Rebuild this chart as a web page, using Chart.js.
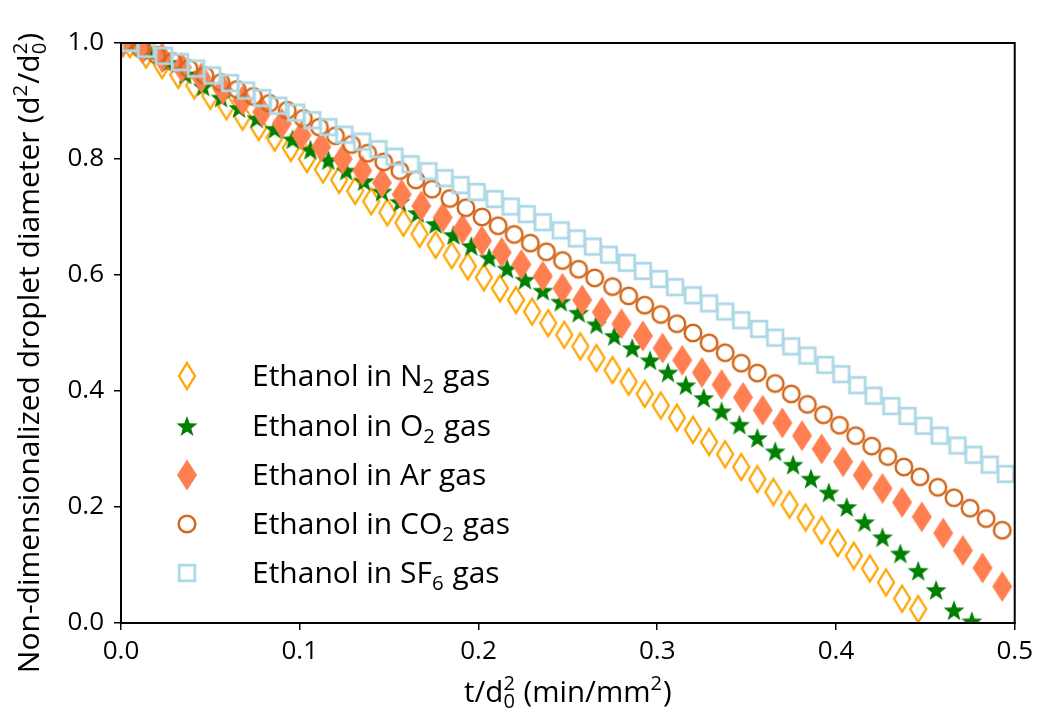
<!DOCTYPE html>
<html>
<head>
<meta charset="utf-8">
<script src="https://cdn.jsdelivr.net/npm/chart.js@4.4.0/dist/chart.umd.min.js"></script>
<style>
  html, body { margin: 0; padding: 0; background: #fff; }
</style>
</head>
<body>
<canvas id="myChart" width="1039" height="719"></canvas>
<script>
// values
const n2X = [0.005,0.014,0.023,0.032,0.041,0.050,0.059,0.068,0.077,0.086,0.095,0.104,0.113,0.122,0.131,0.140,0.149,0.158,0.167,0.176,0.185,0.194,0.203,0.212,0.221,0.230,0.239,0.248,0.257,0.266,0.275,0.284,0.293,0.302,0.311,0.320,0.329,0.338,0.347,0.356,0.365,0.374,0.383,0.392,0.401,0.410,0.419,0.428,0.437,0.446];
const n2Y = [0.998,0.980,0.962,0.945,0.927,0.909,0.891,0.873,0.855,0.837,0.819,0.800,0.782,0.764,0.745,0.727,0.708,0.690,0.671,0.652,0.634,0.615,0.596,0.577,0.557,0.537,0.517,0.497,0.477,0.457,0.436,0.416,0.395,0.375,0.354,0.333,0.312,0.291,0.269,0.248,0.226,0.204,0.182,0.160,0.138,0.116,0.094,0.070,0.042,0.024];

const o2X = [0.006,0.016,0.026,0.036,0.046,0.056,0.066,0.076,0.086,0.096,0.106,0.116,0.126,0.136,0.146,0.156,0.166,0.176,0.186,0.196,0.206,0.216,0.226,0.236,0.246,0.256,0.266,0.276,0.286,0.296,0.306,0.316,0.326,0.336,0.346,0.356,0.366,0.376,0.386,0.396,0.406,0.416,0.426,0.436,0.446,0.456,0.466,0.476];
const o2Y = [1.000,0.985,0.966,0.946,0.925,0.906,0.888,0.870,0.852,0.834,0.816,0.798,0.780,0.762,0.744,0.726,0.707,0.688,0.669,0.650,0.630,0.611,0.592,0.573,0.554,0.535,0.515,0.495,0.474,0.453,0.432,0.410,0.388,0.365,0.342,0.319,0.296,0.273,0.249,0.225,0.200,0.174,0.148,0.120,0.090,0.057,0.022,0.003];

const arX = [0.001,0.012,0.023,0.034,0.045,0.057,0.068,0.079,0.090,0.101,0.112,0.124,0.135,0.146,0.157,0.168,0.180,0.191,0.202,0.213,0.224,0.236,0.247,0.258,0.269,0.280,0.292,0.303,0.314,0.325,0.336,0.348,0.359,0.370,0.381,0.392,0.404,0.415,0.426,0.437,0.448,0.460,0.471,0.482,0.493];
const arY = [1.000,0.990,0.975,0.958,0.940,0.920,0.901,0.881,0.861,0.841,0.821,0.800,0.780,0.759,0.739,0.719,0.699,0.679,0.659,0.639,0.618,0.598,0.577,0.557,0.536,0.516,0.495,0.474,0.453,0.432,0.411,0.389,0.367,0.345,0.323,0.300,0.278,0.255,0.232,0.208,0.183,0.155,0.125,0.095,0.063];

const co2X = [0.002,0.011,0.020,0.029,0.038,0.047,0.056,0.065,0.074,0.083,0.093,0.102,0.111,0.120,0.129,0.138,0.147,0.156,0.165,0.174,0.184,0.193,0.202,0.211,0.220,0.229,0.238,0.247,0.256,0.265,0.275,0.284,0.293,0.302,0.311,0.320,0.329,0.338,0.347,0.356,0.366,0.375,0.384,0.393,0.402,0.411,0.420,0.429,0.438,0.447,0.457,0.466,0.475,0.484,0.493];
const co2Y = [1.000,0.990,0.979,0.968,0.956,0.944,0.932,0.920,0.908,0.896,0.884,0.870,0.855,0.840,0.825,0.810,0.795,0.780,0.764,0.748,0.732,0.716,0.700,0.685,0.670,0.655,0.640,0.625,0.610,0.595,0.580,0.564,0.548,0.532,0.516,0.500,0.483,0.466,0.448,0.431,0.413,0.395,0.377,0.359,0.341,0.323,0.305,0.287,0.269,0.252,0.234,0.216,0.198,0.180,0.160];

const sf6X = [0.005,0.014,0.024,0.033,0.042,0.051,0.061,0.070,0.079,0.088,0.098,0.107,0.116,0.125,0.135,0.144,0.153,0.162,0.172,0.181,0.190,0.199,0.209,0.218,0.227,0.236,0.246,0.255,0.264,0.273,0.283,0.292,0.301,0.310,0.320,0.329,0.338,0.347,0.357,0.366,0.375,0.384,0.394,0.403,0.412,0.421,0.431,0.440,0.449,0.458,0.468,0.477,0.486,0.495];
const sf6Y = [1.000,0.990,0.978,0.967,0.956,0.944,0.931,0.918,0.905,0.892,0.880,0.867,0.855,0.842,0.830,0.817,0.804,0.791,0.779,0.767,0.755,0.743,0.731,0.718,0.705,0.691,0.677,0.663,0.649,0.635,0.621,0.607,0.593,0.579,0.565,0.551,0.537,0.522,0.507,0.492,0.477,0.461,0.445,0.429,0.410,0.392,0.374,0.357,0.340,0.323,0.306,0.290,0.273,0.257];

const xTicks = ['0.0', '0.1', '0.2', '0.3', '0.4', '0.5'];
const yTicks = ['0.0', '0.2', '0.4', '0.6', '0.8', '1.0'];

// legend texts, split for the subscript
const legendNames = [
    [{ n: 'Ethanol in N' }, { sub: '2' }, { n: ' gas' }],
    [{ n: 'Ethanol in O' }, { sub: '2' }, { n: ' gas' }],
    [{ n: 'Ethanol in Ar gas' }],
    [{ n: 'Ethanol in CO' }, { sub: '2' }, { n: ' gas' }],
    [{ n: 'Ethanol in SF' }, { sub: '6' }, { n: ' gas' }]
];
const yTitle = [{ n: 'Non-dimensionalized droplet diameter (d' }, { sup: '2' }, { n: '/d' }, { sub: '0', sup: '2' }, { n: ')' }];
const xTitle = [{ n: 't/d' }, { sub: '0', sup: '2' }, { n: ' (min/mm' }, { sup: '2' }, { n: ')' }];

const FONT = '"Open Sans", "Noto Sans", sans-serif';

function makeMarker(w, h, draw) {
    const c = document.createElement('canvas');
    c.width = w;
    c.height = h;
    draw(c.getContext('2d'), w / 2, h / 2);
    return c;
}

const thinDiamond = makeMarker(22, 32, (g, cx, cy) => {
    g.beginPath();
    g.moveTo(cx, cy - 13); g.lineTo(cx + 8, cy); g.lineTo(cx, cy + 13); g.lineTo(cx - 8, cy);
    g.closePath();
    g.strokeStyle = '#FFA500';
    g.lineWidth = 2.3;
    g.stroke();
});

const fatDiamond = makeMarker(24, 34, (g, cx, cy) => {
    g.beginPath();
    g.moveTo(cx, cy - 15.5); g.lineTo(cx + 10, cy); g.lineTo(cx, cy + 15.5); g.lineTo(cx - 10, cy);
    g.closePath();
    g.fillStyle = '#FF7F50';
    g.fill();
});

const star = makeMarker(26, 26, (g, cx, cy) => {
    g.beginPath();
    for (let i = 0; i < 10; i++) {
        const r = i % 2 === 0 ? 11 : 4.5;
        const a = -Math.PI / 2 + i * Math.PI / 5;
        const px = cx + r * Math.cos(a), py = cy + 1 + r * Math.sin(a);
        if (i === 0) g.moveTo(px, py); else g.lineTo(px, py);
    }
    g.closePath();
    g.fillStyle = '#008000';
    g.fill();
});

const ring = makeMarker(24, 24, (g, cx, cy) => {
    g.beginPath();
    g.arc(cx, cy, 8.3, 0, Math.PI * 2);
    g.strokeStyle = '#D2691E';
    g.lineWidth = 2.5;
    g.stroke();
});

const square = makeMarker(24, 24, (g, cx, cy) => {
    g.strokeStyle = '#ADD8E6';
    g.lineWidth = 2.8;
    g.strokeRect(cx - 7.8, cy - 7.8, 15.6, 15.6);
});

const markers = [thinDiamond, star, fatDiamond, ring, square];

function pts(xs, ys) {
    const out = [];
    for (let i = 0; i < Math.min(xs.length, ys.length); i++) out.push({ x: xs[i], y: ys[i] });
    return out;
}

function richWidth(ctx, segs, size) {
    let w = 0;
    segs.forEach(s => {
        if (s.n !== undefined) {
            ctx.font = size + 'px ' + FONT;
            w += ctx.measureText(s.n).width;
        } else {
            ctx.font = (size * 0.68) + 'px ' + FONT;
            const a = s.sup ? ctx.measureText(s.sup).width : 0;
            const b = s.sub ? ctx.measureText(s.sub).width : 0;
            w += Math.max(a, b) + 1;
        }
    });
    return w;
}

function drawRich(ctx, segs, x, y, size) {
    let cx = x;
    ctx.textBaseline = 'alphabetic';
    ctx.textAlign = 'left';
    segs.forEach(s => {
        if (s.n !== undefined) {
            ctx.font = size + 'px ' + FONT;
            ctx.fillText(s.n, cx, y);
            cx += ctx.measureText(s.n).width;
        } else {
            ctx.font = (size * 0.68) + 'px ' + FONT;
            let w = 0;
            if (s.sup) {
                ctx.fillText(s.sup, cx, y - size * 0.40);
                w = Math.max(w, ctx.measureText(s.sup).width);
            }
            if (s.sub) {
                ctx.fillText(s.sub, cx, y + size * 0.22);
                w = Math.max(w, ctx.measureText(s.sub).width);
            }
            cx += w + 1;
        }
    });
}

const decorations = {
    id: 'decorations',
    beforeDraw(chart) {
        const ctx = chart.ctx;
        ctx.save();
        ctx.fillStyle = '#fff';
        ctx.fillRect(0, 0, chart.width, chart.height);
        ctx.restore();
    },
    afterDraw(chart) {
        const ctx = chart.ctx;
        const a = chart.chartArea;
        ctx.save();
        // frame
        ctx.strokeStyle = '#000';
        ctx.lineWidth = 2;
        ctx.strokeRect(a.left, a.top, a.right - a.left, a.bottom - a.top);

        ctx.fillStyle = '#000';
        // x title
        const xs = 29.5;
        const xw = richWidth(ctx, xTitle, xs);
        drawRich(ctx, xTitle, (a.left + a.right) / 2 - xw / 2, 702, xs);

        // y title, rotated
        const ys = 30;
        const yw = richWidth(ctx, yTitle, ys);
        ctx.save();
        ctx.translate(39, 353);
        ctx.rotate(-Math.PI / 2);
        drawRich(ctx, yTitle, -yw / 2, 0, ys);
        ctx.restore();

        // legend
        const rows = [376, 426, 475, 524, 573];
        legendNames.forEach((name, i) => {
            const m = markers[i];
            ctx.drawImage(m, 187 - m.width / 2, rows[i] - m.height / 2);
            drawRich(ctx, name, 252, rows[i] + 10, 30);
        });
        ctx.restore();
    }
};

const ctx = document.getElementById('myChart').getContext('2d');
const seriesX = [n2X, o2X, arX, co2X, sf6X];
const seriesY = [n2Y, o2Y, arY, co2Y, sf6Y];
const labels = ['Ethanol in N2 gas', 'Ethanol in O2 gas', 'Ethanol in Ar gas', 'Ethanol in CO2 gas', 'Ethanol in SF6 gas'];

const datasets = labels.map((label, i) => ({
    label: label,
    data: pts(seriesX[i], seriesY[i]),
    pointStyle: markers[i],
    pointRadius: 8,
    pointHoverRadius: 8,
    showLine: false,
    order: 5 - i
}));

new Chart(ctx, {
    type: 'scatter',
    data: { datasets: datasets },
    plugins: [decorations],
    options: {
        responsive: false,
        animation: false,
        events: [],
        layout: { padding: { left: 0, top: 43, right: 24, bottom: 0 } },
        plugins: {
            legend: { display: false },
            tooltip: { enabled: false }
        },
        scales: {
            x: {
                type: 'linear',
                min: 0,
                max: 0.5,
                afterBuildTicks: s => { s.ticks = xTicks.map(t => ({ value: parseFloat(t) })); },
                ticks: {
                    callback: (v, i) => xTicks[i],
                    color: '#000',
                    font: { family: FONT, size: 26 },
                    padding: 6,
                    maxRotation: 0
                },
                grid: { drawOnChartArea: false, drawTicks: true, tickLength: 7, color: '#000', lineWidth: 1.5 },
                border: { display: true, color: '#000', width: 2 },
                afterFit: s => { s.height = 96; }
            },
            y: {
                type: 'linear',
                min: 0,
                max: 1,
                afterBuildTicks: s => { s.ticks = yTicks.map(t => ({ value: parseFloat(t) })); },
                ticks: {
                    callback: (v, i) => yTicks[i],
                    color: '#000',
                    font: { family: FONT, size: 26 },
                    padding: 10
                },
                grid: { drawOnChartArea: false, drawTicks: true, tickLength: 7, color: '#000', lineWidth: 1.5 },
                border: { display: true, color: '#000', width: 2 },
                afterFit: s => { s.width = 121; }
            }
        }
    }
});
</script>
</body>
</html>
